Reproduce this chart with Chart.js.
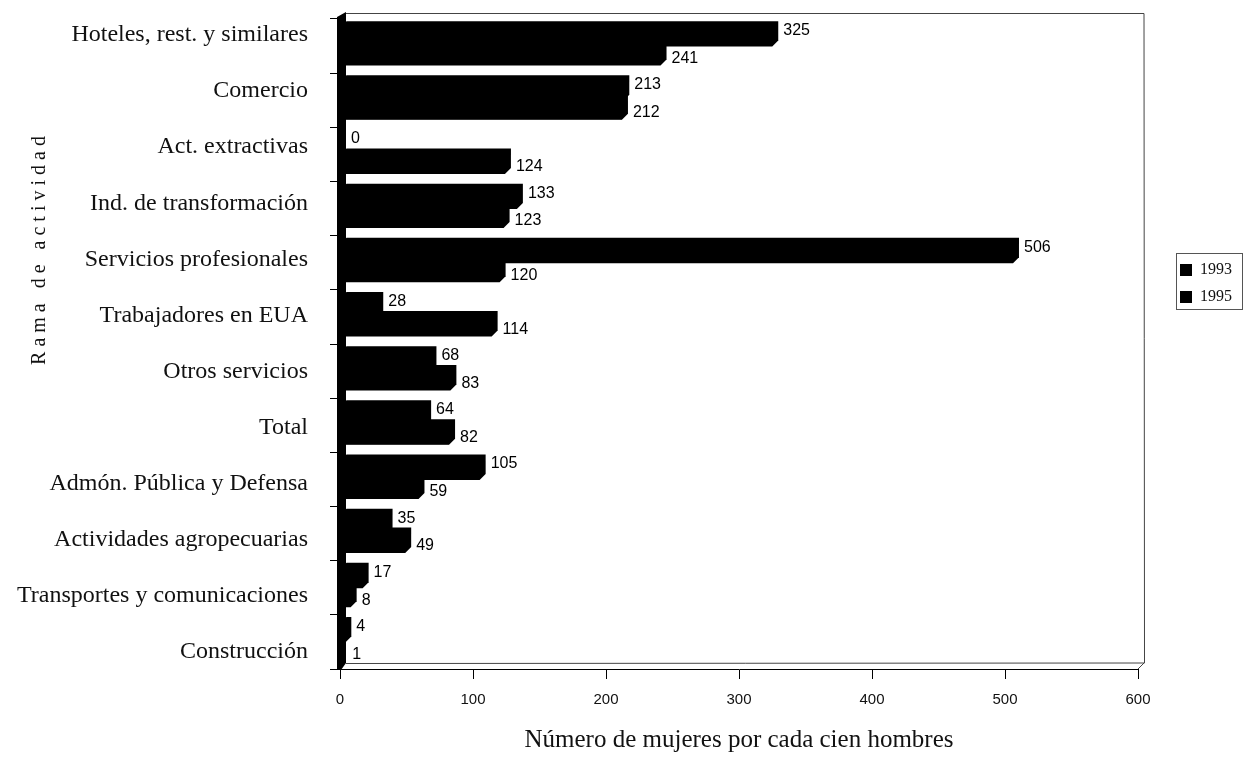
<!DOCTYPE html>
<html>
<head>
<meta charset="utf-8">
<script src="https://cdn.jsdelivr.net/npm/chart.js@4.4.1/dist/chart.umd.min.js"></script>
<style>
  html, body { margin: 0; padding: 0; background: #fff; }
</style>
</head>
<body>
<canvas id="mujeresChart" width="1246" height="758"></canvas>
<script>
// Data
const categories = [
    'Hoteles, rest. y similares',
    'Comercio',
    'Act. extractivas',
    'Ind. de transformación',
    'Servicios profesionales',
    'Trabajadores en EUA',
    'Otros servicios',
    'Total',
    'Admón. Pública y Defensa',
    'Actividades agropecuarias',
    'Transportes y comunicaciones',
    'Construcción'
];
const years = ['1993', '1995'];
const values1993 = [325, 213, 0, 133, 506, 28, 68, 64, 105, 35, 17, 4];
const values1995 = [241, 212, 124, 123, 120, 114, 83, 82, 59, 49, 8, 1];
const xTicks = [0, 100, 200, 300, 400, 500, 600];

const DEPTH = 6;
// category names sit on the front face, spread a bit wider than the bars
const LABEL_FIRST = 35;
const LABEL_STEP = 56.1;

// Back wall / frame and the black left wall
const frame = {
    id: 'frame',
    beforeDatasetsDraw(chart) {
        const { ctx, chartArea: a } = chart;
        ctx.save();
        ctx.strokeStyle = '#444';
        ctx.lineWidth = 1;
        ctx.beginPath();
        ctx.moveTo(a.left + DEPTH, a.top - DEPTH + 0.5);
        ctx.lineTo(a.right + DEPTH, a.top - DEPTH + 0.5);
        ctx.lineTo(a.right + DEPTH + 0.5, a.bottom - DEPTH);
        ctx.lineTo(a.left + DEPTH, a.bottom - DEPTH + 0.5);
        ctx.moveTo(a.right, a.bottom);
        ctx.lineTo(a.right + DEPTH, a.bottom - DEPTH);
        ctx.stroke();
        // left wall
        ctx.fillStyle = '#000';
        ctx.beginPath();
        ctx.moveTo(a.left - 3, a.bottom + 1);
        ctx.lineTo(a.left - 3, a.top - 2);
        ctx.lineTo(a.left + DEPTH, a.top - DEPTH - 1);
        ctx.lineTo(a.left + DEPTH, a.bottom - DEPTH);
        ctx.lineTo(a.left + 1, a.bottom + 1);
        ctx.closePath();
        ctx.fill();
        ctx.restore();
    }
};

// Solid 3D block for each bar + value labels
const barDepth = {
    id: 'barDepth',
    afterDatasetsDraw(chart) {
        const { ctx } = chart;
        ctx.save();
        ctx.fillStyle = '#000';
        chart.data.datasets.forEach((ds, i) => {
            chart.getDatasetMeta(i).data.forEach((bar) => {
                if (bar.x - bar.base < 1) return;
                const top = bar.y - bar.height / 2;
                const bottom = bar.y + bar.height / 2 + 0.5;
                ctx.beginPath();
                ctx.moveTo(bar.base, bottom);
                ctx.lineTo(bar.base, top);
                ctx.lineTo(bar.base + DEPTH, top - DEPTH);
                ctx.lineTo(bar.x + DEPTH, top - DEPTH);
                ctx.lineTo(bar.x + DEPTH, bottom - DEPTH);
                ctx.lineTo(bar.x, bottom);
                ctx.closePath();
                ctx.fill();
            });
        });
        ctx.font = '16px "Liberation Sans"';
        ctx.textBaseline = 'middle';
        ctx.textAlign = 'left';
        chart.data.datasets.forEach((ds, i) => {
            chart.getDatasetMeta(i).data.forEach((bar, j) => {
                const dy = i === 0 ? -6 : 3;
                ctx.fillText(String(ds.data[j]), bar.x + 11, bar.y + dy);
            });
        });
        ctx.restore();
    }
};

// Spaced-out y title, legend frame, category label placement
const extras = {
    id: 'extras',
    beforeInit(chart) {
        const fit = chart.legend.fit;
        chart.legend.fit = function () {
            fit.call(this);
            this.width = 108;
        };
    },
    beforeDraw(chart) {
        chart.legend.left = 1169;
        chart.legend.top = 251;
        const items = chart.scales.y.getLabelItems(chart.chartArea);
        items.forEach((item, i) => {
            item.options.translation[1] = LABEL_FIRST + LABEL_STEP * i;
        });
    },
    afterDraw(chart) {
        const { ctx } = chart;
        ctx.save();
        ctx.strokeStyle = '#555';
        ctx.lineWidth = 1;
        ctx.strokeRect(1176.5, 253.5, 66, 56);
        ctx.translate(40, 248);
        ctx.rotate(-Math.PI / 2);
        ctx.font = '20px "Liberation Serif"';
        ctx.letterSpacing = '5px';
        ctx.fillStyle = '#111';
        ctx.textAlign = 'center';
        ctx.textBaseline = 'middle';
        ctx.fillText('Rama de actividad', 0, 0);
        ctx.restore();
    }
};

const ctx = document.getElementById('mujeresChart').getContext('2d');
window.mujeresChart = new Chart(ctx, {
    type: 'bar',
    data: {
        labels: categories,
        datasets: [
            { label: years[0], data: values1993, backgroundColor: '#000' },
            { label: years[1], data: values1995, backgroundColor: '#000' }
        ]
    },
    options: {
        indexAxis: 'y',
        responsive: false,
        animation: false,
        devicePixelRatio: 1,
        layout: { padding: { top: 19, left: 0, right: 0, bottom: 0 } },
        datasets: { bar: { categoryPercentage: 0.7, barPercentage: 1 } },
        scales: {
            x: {
                min: 0,
                max: 600,
                afterBuildTicks: (s) => { s.ticks = xTicks.map(v => ({ value: v })); },
                afterFit: (s) => {
                    s.height = 89;
                    s.paddingLeft = 0;
                    s.paddingRight = 0;
                },
                ticks: { font: { family: 'Liberation Sans', size: 15 }, color: '#111', padding: 12 },
                grid: { drawOnChartArea: false, tickLength: 10, color: '#000' },
                border: { color: '#000' },
                title: {
                    display: true,
                    text: 'Número de mujeres por cada cien hombres',
                    font: { family: 'Liberation Serif', size: 25 },
                    color: '#111',
                    padding: { top: 0, bottom: 3 }
                }
            },
            y: {
                afterFit: (s) => {
                    s.width = 340;
                    s.paddingTop = 0;
                    s.paddingBottom = 0;
                },
                ticks: {
                    font: { family: 'Liberation Serif', size: 24 },
                    color: '#111',
                    padding: 22,
                    autoSkip: false
                },
                grid: { drawOnChartArea: false, tickLength: 10, color: '#000' },
                border: { color: '#000' }
            }
        },
        plugins: {
            legend: {
                position: 'right',
                align: 'start',
                labels: {
                    boxWidth: 12,
                    boxHeight: 12,
                    padding: 11,
                    color: '#111',
                    font: { family: 'Liberation Serif', size: 16 }
                }
            },
            tooltip: { enabled: false }
        }
    },
    plugins: [frame, barDepth, extras]
});
</script>
</body>
</html>
